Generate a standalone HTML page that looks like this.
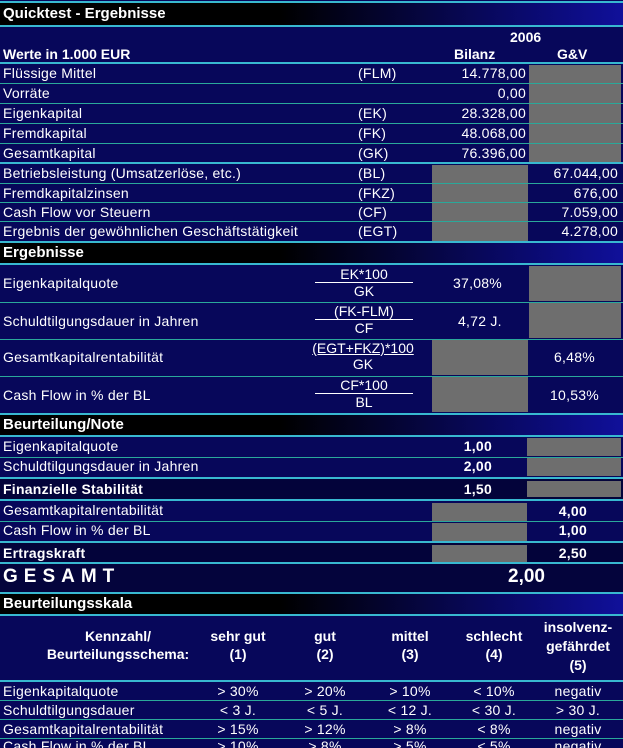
<!DOCTYPE html>
<html><head><meta charset="utf-8"><style>
*{margin:0;padding:0;box-sizing:border-box}
html,body{width:623px;height:748px;overflow:hidden}
body{background:#07075a;font-family:"Liberation Sans",sans-serif;color:#fff;position:relative}
#w{position:absolute;left:0;top:0;width:623px;height:748px;background:#07075a;overflow:hidden}
.a{position:absolute;white-space:nowrap}
.t{font-size:14px;line-height:19px;letter-spacing:0.25px}
.b{font-weight:bold}
.hd{position:absolute;left:0;width:623px;background:linear-gradient(90deg,#000 0%,#000 45%,#0a0a70 85%,#10109a 100%);font-weight:bold;font-size:15px;padding-left:3px}
.ln{position:absolute;left:0;width:623px;height:1px;background:#2aa89a}
.lc{position:absolute;left:0;width:623px;height:2px;background:#38b8d0}
.g{position:absolute;background:#6e6e6e}
.r{text-align:right}
.c{text-align:center}
.dk{position:absolute;left:0;width:623px;background:#03033a}
.fr{position:absolute;left:315px;width:98px;text-align:center;font-size:14px;line-height:16px}
.fr span{display:block}
.fr .n{border-bottom:1px solid #fff}
.sh{font-size:14px;line-height:18px}
</style></head><body><div id="w">
<div class="lc" style="top:1px"></div>
<div class="hd" style="top:3px;height:22px;line-height:22px">Quicktest - Ergebnisse</div>
<div class="lc" style="top:25px"></div>
<div class="a b" style="left:510px;top:29px;font-size:14px">2006</div>
<div class="a b" style="left:3px;top:46px;font-size:14px">Werte in 1.000 EUR</div>
<div class="a b" style="left:454px;top:46px;font-size:14px">Bilanz</div>
<div class="a b" style="left:557px;top:46px;font-size:14px">G&amp;V</div>
<div class="lc" style="top:62px"></div>

<div class="g" style="left:529px;top:65px;width:92px;height:97px"></div>
<div class="g" style="left:432px;top:165px;width:96px;height:76px"></div>

<div class="a t" style="left:3px;top:64px">Flüssige Mittel</div><div class="a t" style="left:358px;top:64px">(FLM)</div><div class="a t r" style="left:420px;width:106px;top:64px">14.778,00</div>
<div class="ln" style="top:83px"></div>
<div class="a t" style="left:3px;top:84px">Vorräte</div><div class="a t r" style="left:420px;width:106px;top:84px">0,00</div>
<div class="ln" style="top:103px"></div>
<div class="a t" style="left:3px;top:104px">Eigenkapital</div><div class="a t" style="left:358px;top:104px">(EK)</div><div class="a t r" style="left:420px;width:106px;top:104px">28.328,00</div>
<div class="ln" style="top:123px"></div>
<div class="a t" style="left:3px;top:124px">Fremdkapital</div><div class="a t" style="left:358px;top:124px">(FK)</div><div class="a t r" style="left:420px;width:106px;top:124px">48.068,00</div>
<div class="ln" style="top:143px"></div>
<div class="a t" style="left:3px;top:144px">Gesamtkapital</div><div class="a t" style="left:358px;top:144px">(GK)</div><div class="a t r" style="left:420px;width:106px;top:144px">76.396,00</div>
<div class="lc" style="top:162px"></div>
<div class="a t" style="left:3px;top:164px">Betriebsleistung (Umsatzerlöse, etc.)</div><div class="a t" style="left:358px;top:164px">(BL)</div><div class="a t r" style="left:520px;width:98px;top:164px">67.044,00</div>
<div class="ln" style="top:183px"></div>
<div class="a t" style="left:3px;top:184px">Fremdkapitalzinsen</div><div class="a t" style="left:358px;top:184px">(FKZ)</div><div class="a t r" style="left:520px;width:98px;top:184px">676,00</div>
<div class="ln" style="top:202px"></div>
<div class="a t" style="left:3px;top:203px">Cash Flow vor Steuern</div><div class="a t" style="left:358px;top:203px">(CF)</div><div class="a t r" style="left:520px;width:98px;top:203px">7.059,00</div>
<div class="ln" style="top:221px"></div>
<div class="a t" style="left:3px;top:222px">Ergebnis der gewöhnlichen Geschäftstätigkeit</div><div class="a t" style="left:358px;top:222px">(EGT)</div><div class="a t r" style="left:520px;width:98px;top:222px">4.278,00</div>
<div class="lc" style="top:241px"></div>

<div class="hd" style="top:243px;height:20px;line-height:20px">Ergebnisse</div>
<div class="lc" style="top:263px"></div>
<div class="g" style="left:529px;top:266px;width:92px;height:35px"></div>
<div class="g" style="left:529px;top:303px;width:92px;height:35px"></div>
<div class="g" style="left:432px;top:340px;width:96px;height:35px"></div>
<div class="g" style="left:432px;top:377px;width:96px;height:35px"></div>

<div class="a t" style="left:3px;top:274px">Eigenkapitalquote</div>
<div class="fr" style="top:266px"><span class="n">EK*100</span><span>GK</span></div>
<div class="a t" style="left:453px;top:274px">37,08%</div>
<div class="ln" style="top:302px"></div>
<div class="a t" style="left:3px;top:312px">Schuldtilgungsdauer in Jahren</div>
<div class="fr" style="top:303px"><span class="n">(FK-FLM)</span><span>CF</span></div>
<div class="a t" style="left:458px;top:312px">4,72 J.</div>
<div class="ln" style="top:339px"></div>
<div class="a t" style="left:3px;top:348px">Gesamtkapitalrentabilität</div>
<div class="fr" style="top:340px;left:300px;width:126px"><span style="text-decoration:underline">(EGT+FKZ)*100</span><span>GK</span></div>
<div class="a t" style="left:554px;top:348px">6,48%</div>
<div class="ln" style="top:376px"></div>
<div class="a t" style="left:3px;top:386px">Cash Flow in % der BL</div>
<div class="fr" style="top:377px"><span class="n">CF*100</span><span>BL</span></div>
<div class="a t" style="left:550px;top:386px">10,53%</div>
<div class="lc" style="top:413px"></div>

<div class="hd" style="top:415px;height:20px;line-height:20px">Beurteilung/Note</div>
<div class="lc" style="top:435px"></div>
<div class="dk" style="top:479px;height:20px"></div>
<div class="dk" style="top:543px;height:19px"></div>
<div class="g" style="left:527px;top:438px;width:94px;height:18px"></div>
<div class="g" style="left:527px;top:458px;width:94px;height:18px"></div>
<div class="g" style="left:527px;top:481px;width:94px;height:16px"></div>
<div class="g" style="left:432px;top:503px;width:95px;height:18px"></div>
<div class="g" style="left:432px;top:523px;width:95px;height:18px"></div>
<div class="g" style="left:432px;top:545px;width:95px;height:17px"></div>

<div class="a t" style="left:3px;top:437px">Eigenkapitalquote</div><div class="a t b r" style="left:420px;width:72px;top:437px">1,00</div>
<div class="ln" style="top:457px"></div>
<div class="a t" style="left:3px;top:457px">Schuldtilgungsdauer in Jahren</div><div class="a t b r" style="left:420px;width:72px;top:457px">2,00</div>
<div class="lc" style="top:477px"></div>
<div class="a t b" style="left:3px;top:480px">Finanzielle Stabilität</div><div class="a t b r" style="left:420px;width:72px;top:480px">1,50</div>
<div class="lc" style="top:499px"></div>
<div class="a t" style="left:3px;top:501px">Gesamtkapitalrentabilität</div><div class="a t b r" style="left:520px;width:67px;top:502px">4,00</div>
<div class="ln" style="top:521px"></div>
<div class="a t" style="left:3px;top:521px">Cash Flow in % der BL</div><div class="a t b r" style="left:520px;width:67px;top:521px">1,00</div>
<div class="lc" style="top:541px"></div>
<div class="a t b" style="left:3px;top:544px">Ertragskraft</div><div class="a t b r" style="left:520px;width:67px;top:544px">2,50</div>
<div class="lc" style="top:562px"></div>

<div class="dk" style="top:564px;height:28px;background:#04043c"></div>
<div class="a b" style="left:3px;top:566px;font-size:19px;letter-spacing:6px">GESAMT</div>
<div class="a b" style="left:508px;top:566px;font-size:19px">2,00</div>
<div class="lc" style="top:592px"></div>

<div class="hd" style="top:594px;height:20px;line-height:20px">Beurteilungsskala</div>
<div class="lc" style="top:614px"></div>
<div class="a b c sh" style="left:20px;width:196px;top:627px">Kennzahl/<br>Beurteilungsschema:</div>
<div class="a b c sh" style="left:195px;width:86px;top:627px">sehr gut<br>(1)</div>
<div class="a b c sh" style="left:282px;width:86px;top:627px">gut<br>(2)</div>
<div class="a b c sh" style="left:367px;width:86px;top:627px">mittel<br>(3)</div>
<div class="a b c sh" style="left:451px;width:86px;top:627px">schlecht<br>(4)</div>
<div class="a b c sh" style="left:533px;width:90px;top:618px;line-height:19px">insolvenz-<br>gefährdet<br>(5)</div>
<div class="lc" style="top:680px"></div>

<div class="a t" style="left:3px;top:682px">Eigenkapitalquote</div>
<div class="a t c" style="left:200px;width:76px;top:682px">&gt; 30%</div><div class="a t c" style="left:287px;width:76px;top:682px">&gt; 20%</div><div class="a t c" style="left:372px;width:76px;top:682px">&gt; 10%</div><div class="a t c" style="left:456px;width:76px;top:682px">&lt; 10%</div><div class="a t c" style="left:540px;width:76px;top:682px">negativ</div>
<div class="ln" style="top:700px"></div>
<div class="a t" style="left:3px;top:701px">Schuldtilgungsdauer</div>
<div class="a t c" style="left:200px;width:76px;top:701px">&lt; 3 J.</div><div class="a t c" style="left:287px;width:76px;top:701px">&lt; 5 J.</div><div class="a t c" style="left:372px;width:76px;top:701px">&lt; 12 J.</div><div class="a t c" style="left:456px;width:76px;top:701px">&lt; 30 J.</div><div class="a t c" style="left:540px;width:76px;top:701px">&gt; 30 J.</div>
<div class="ln" style="top:719px"></div>
<div class="a t" style="left:3px;top:720px">Gesamtkapitalrentabilität</div>
<div class="a t c" style="left:200px;width:76px;top:720px">&gt; 15%</div><div class="a t c" style="left:287px;width:76px;top:720px">&gt; 12%</div><div class="a t c" style="left:372px;width:76px;top:720px">&gt; 8%</div><div class="a t c" style="left:456px;width:76px;top:720px">&lt; 8%</div><div class="a t c" style="left:540px;width:76px;top:720px">negativ</div>
<div class="ln" style="top:738px"></div>
<div class="a t" style="left:3px;top:737px">Cash Flow in % der BL</div>
<div class="a t c" style="left:200px;width:76px;top:737px">&gt; 10%</div><div class="a t c" style="left:287px;width:76px;top:737px">&gt; 8%</div><div class="a t c" style="left:372px;width:76px;top:737px">&gt; 5%</div><div class="a t c" style="left:456px;width:76px;top:737px">&lt; 5%</div><div class="a t c" style="left:540px;width:76px;top:737px">negativ</div>
</div></body></html>
